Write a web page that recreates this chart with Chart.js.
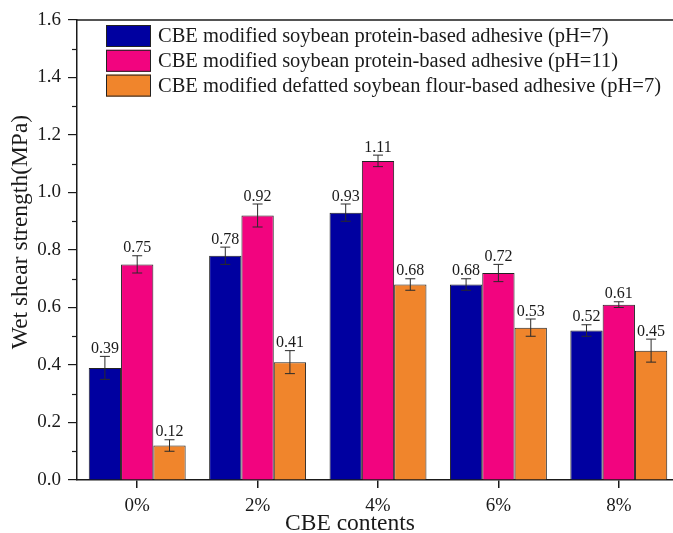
<!DOCTYPE html>
<html>
<head>
<meta charset="utf-8">
<script src="https://cdn.jsdelivr.net/npm/chart.js@4/dist/chart.umd.min.js"></script>
<style>
html,body{margin:0;padding:0;background:#fff;overflow:hidden;}
#wrap{width:673px;height:533px;overflow:hidden;position:relative;}
canvas{display:block;}
</style>
</head>
<body>
<div id="wrap"><canvas id="c" width="690" height="533"></canvas></div>
<script>
const categories = ['0%', '2%', '4%', '6%', '8%'];
const seriesNames = [
  'CBE modified soybean protein-based adhesive (pH=7)',
  'CBE modified soybean protein-based adhesive (pH=11)',
  'CBE modified defatted soybean flour-based adhesive (pH=7)'
];
const spiPH7 = [0.39, 0.78, 0.93, 0.68, 0.52];
const spiPH11 = [0.75, 0.92, 1.11, 0.72, 0.61];
const dsfPH7 = [0.12, 0.41, 0.68, 0.53, 0.45];
const spiPH7Err = [0.04, 0.03, 0.03, 0.02, 0.02];
const spiPH11Err = [0.03, 0.04, 0.02, 0.03, 0.01];
const dsfPH7Err = [0.02, 0.04, 0.02, 0.03, 0.04];
const seriesColors = ['#0000A0', '#F2047F', '#F0852C'];
const yMin = 0, yMax = 1.6, yStep = 0.2;
const xTitle = 'CBE contents';
const yTitle = 'Wet shear strength(MPa)';

const FONT = "'Liberation Serif', 'Times New Roman', serif";
const INK = '#1a1a1a';
const errors = [spiPH7Err, spiPH11Err, dsfPH7Err];

const decorPlugin = {
  id: 'decor',
  afterDatasetsDraw(chart) {
    const ctx = chart.ctx;
    const y = chart.scales.y;
    ctx.save();
    chart.data.datasets.forEach((ds, i) => {
      const meta = chart.getDatasetMeta(i);
      meta.data.forEach((bar, j) => {
        const v = ds.data[j];
        const e = errors[i][j];
        const yt = y.getPixelForValue(v + e);
        const yb = y.getPixelForValue(v - e);
        const x = bar.x;
        ctx.strokeStyle = '#2a2a2a';
        ctx.lineWidth = 1;
        ctx.beginPath();
        ctx.moveTo(x, yt); ctx.lineTo(x, yb);
        ctx.moveTo(x - 5, yt); ctx.lineTo(x + 5, yt);
        ctx.moveTo(x - 5, yb); ctx.lineTo(x + 5, yb);
        ctx.stroke();
        ctx.fillStyle = INK;
        ctx.font = '16px ' + FONT;
        ctx.textAlign = 'center';
        ctx.textBaseline = 'alphabetic';
        ctx.fillText(v.toFixed(2), x, yt - 3.5);
      });
    });
    ctx.restore();
  },
  afterDraw(chart) {
    const ctx = chart.ctx;
    const y = chart.scales.y;
    const area = chart.chartArea;
    ctx.save();
    // top frame line
    ctx.strokeStyle = INK;
    ctx.lineWidth = 1.5;
    ctx.beginPath();
    ctx.moveTo(area.left, area.top);
    ctx.lineTo(area.right, area.top);
    ctx.stroke();
    // minor ticks on y axis
    ctx.lineWidth = 1.2;
    for (let v = yMin + yStep / 2; v < yMax; v += yStep) {
      const py = Math.round(y.getPixelForValue(v)) + 0.5;
      ctx.beginPath();
      ctx.moveTo(area.left - 5, py);
      ctx.lineTo(area.left, py);
      ctx.stroke();
    }
    // legend
    const bx = 106, by = 25, bw = 45, bh = 22, pitch = 24.8;
    chart.data.datasets.forEach((ds, i) => {
      const top = by + i * pitch;
      ctx.fillStyle = ds.backgroundColor;
      ctx.fillRect(bx, top, bw, bh);
      ctx.strokeStyle = '#222';
      ctx.lineWidth = 1;
      ctx.strokeRect(bx + 0.5, top + 0.5, bw - 1, bh - 1);
      ctx.fillStyle = INK;
      ctx.font = '20.5px ' + FONT;
      ctx.textAlign = 'left';
      ctx.textBaseline = 'middle';
      ctx.fillText(ds.label, 158, top + bh / 2 + 1);
    });
    // axis titles
    ctx.fillStyle = INK;
    ctx.font = '23.5px ' + FONT;
    ctx.textAlign = 'center';
    ctx.textBaseline = 'middle';
    ctx.fillText(xTitle, 350, 524);
    ctx.translate(21, 232);
    ctx.rotate(-Math.PI / 2);
    ctx.fillText(yTitle, 0, 0);
    ctx.restore();
  }
};

const seriesValues = [spiPH7, spiPH11, dsfPH7];
new Chart(document.getElementById('c'), {
  type: 'bar',
  data: {
    labels: categories,
    datasets: seriesValues.map((vals, i) => ({
      label: seriesNames[i],
      data: vals,
      backgroundColor: seriesColors[i],
      borderColor: '#222',
      borderWidth: 1,
      categoryPercentage: 0.805,
      barPercentage: 1.0
    }))
  },
  options: {
    responsive: false,
    animation: false,
    devicePixelRatio: 1,
    layout: { padding: { left: 0, top: 20, right: 11, bottom: 0 } },
    plugins: { legend: { display: false }, tooltip: { enabled: false } },
    scales: {
      x: {
        grid: { display: true, drawOnChartArea: false, offset: false, tickLength: 8, color: INK, lineWidth: 1.5 },
        border: { display: true, color: INK, width: 1.5 },
        ticks: { color: INK, font: { family: FONT, size: 19 }, padding: 7 },
        title: { display: false },
        afterFit(scale) { scale.height = 53; }
      },
      y: {
        min: yMin, max: yMax,
        grid: { display: true, drawOnChartArea: false, tickLength: 9, color: INK, lineWidth: 1.2 },
        border: { display: true, color: INK, width: 1.5 },
        ticks: { stepSize: yStep, color: INK, font: { family: FONT, size: 19 }, padding: 7,
          callback: v => Number(v).toFixed(1) },
        title: { display: false },
        afterFit(scale) { scale.width = 77; }
      }
    }
  },
  plugins: [decorPlugin]
});
</script>
</body>
</html>
